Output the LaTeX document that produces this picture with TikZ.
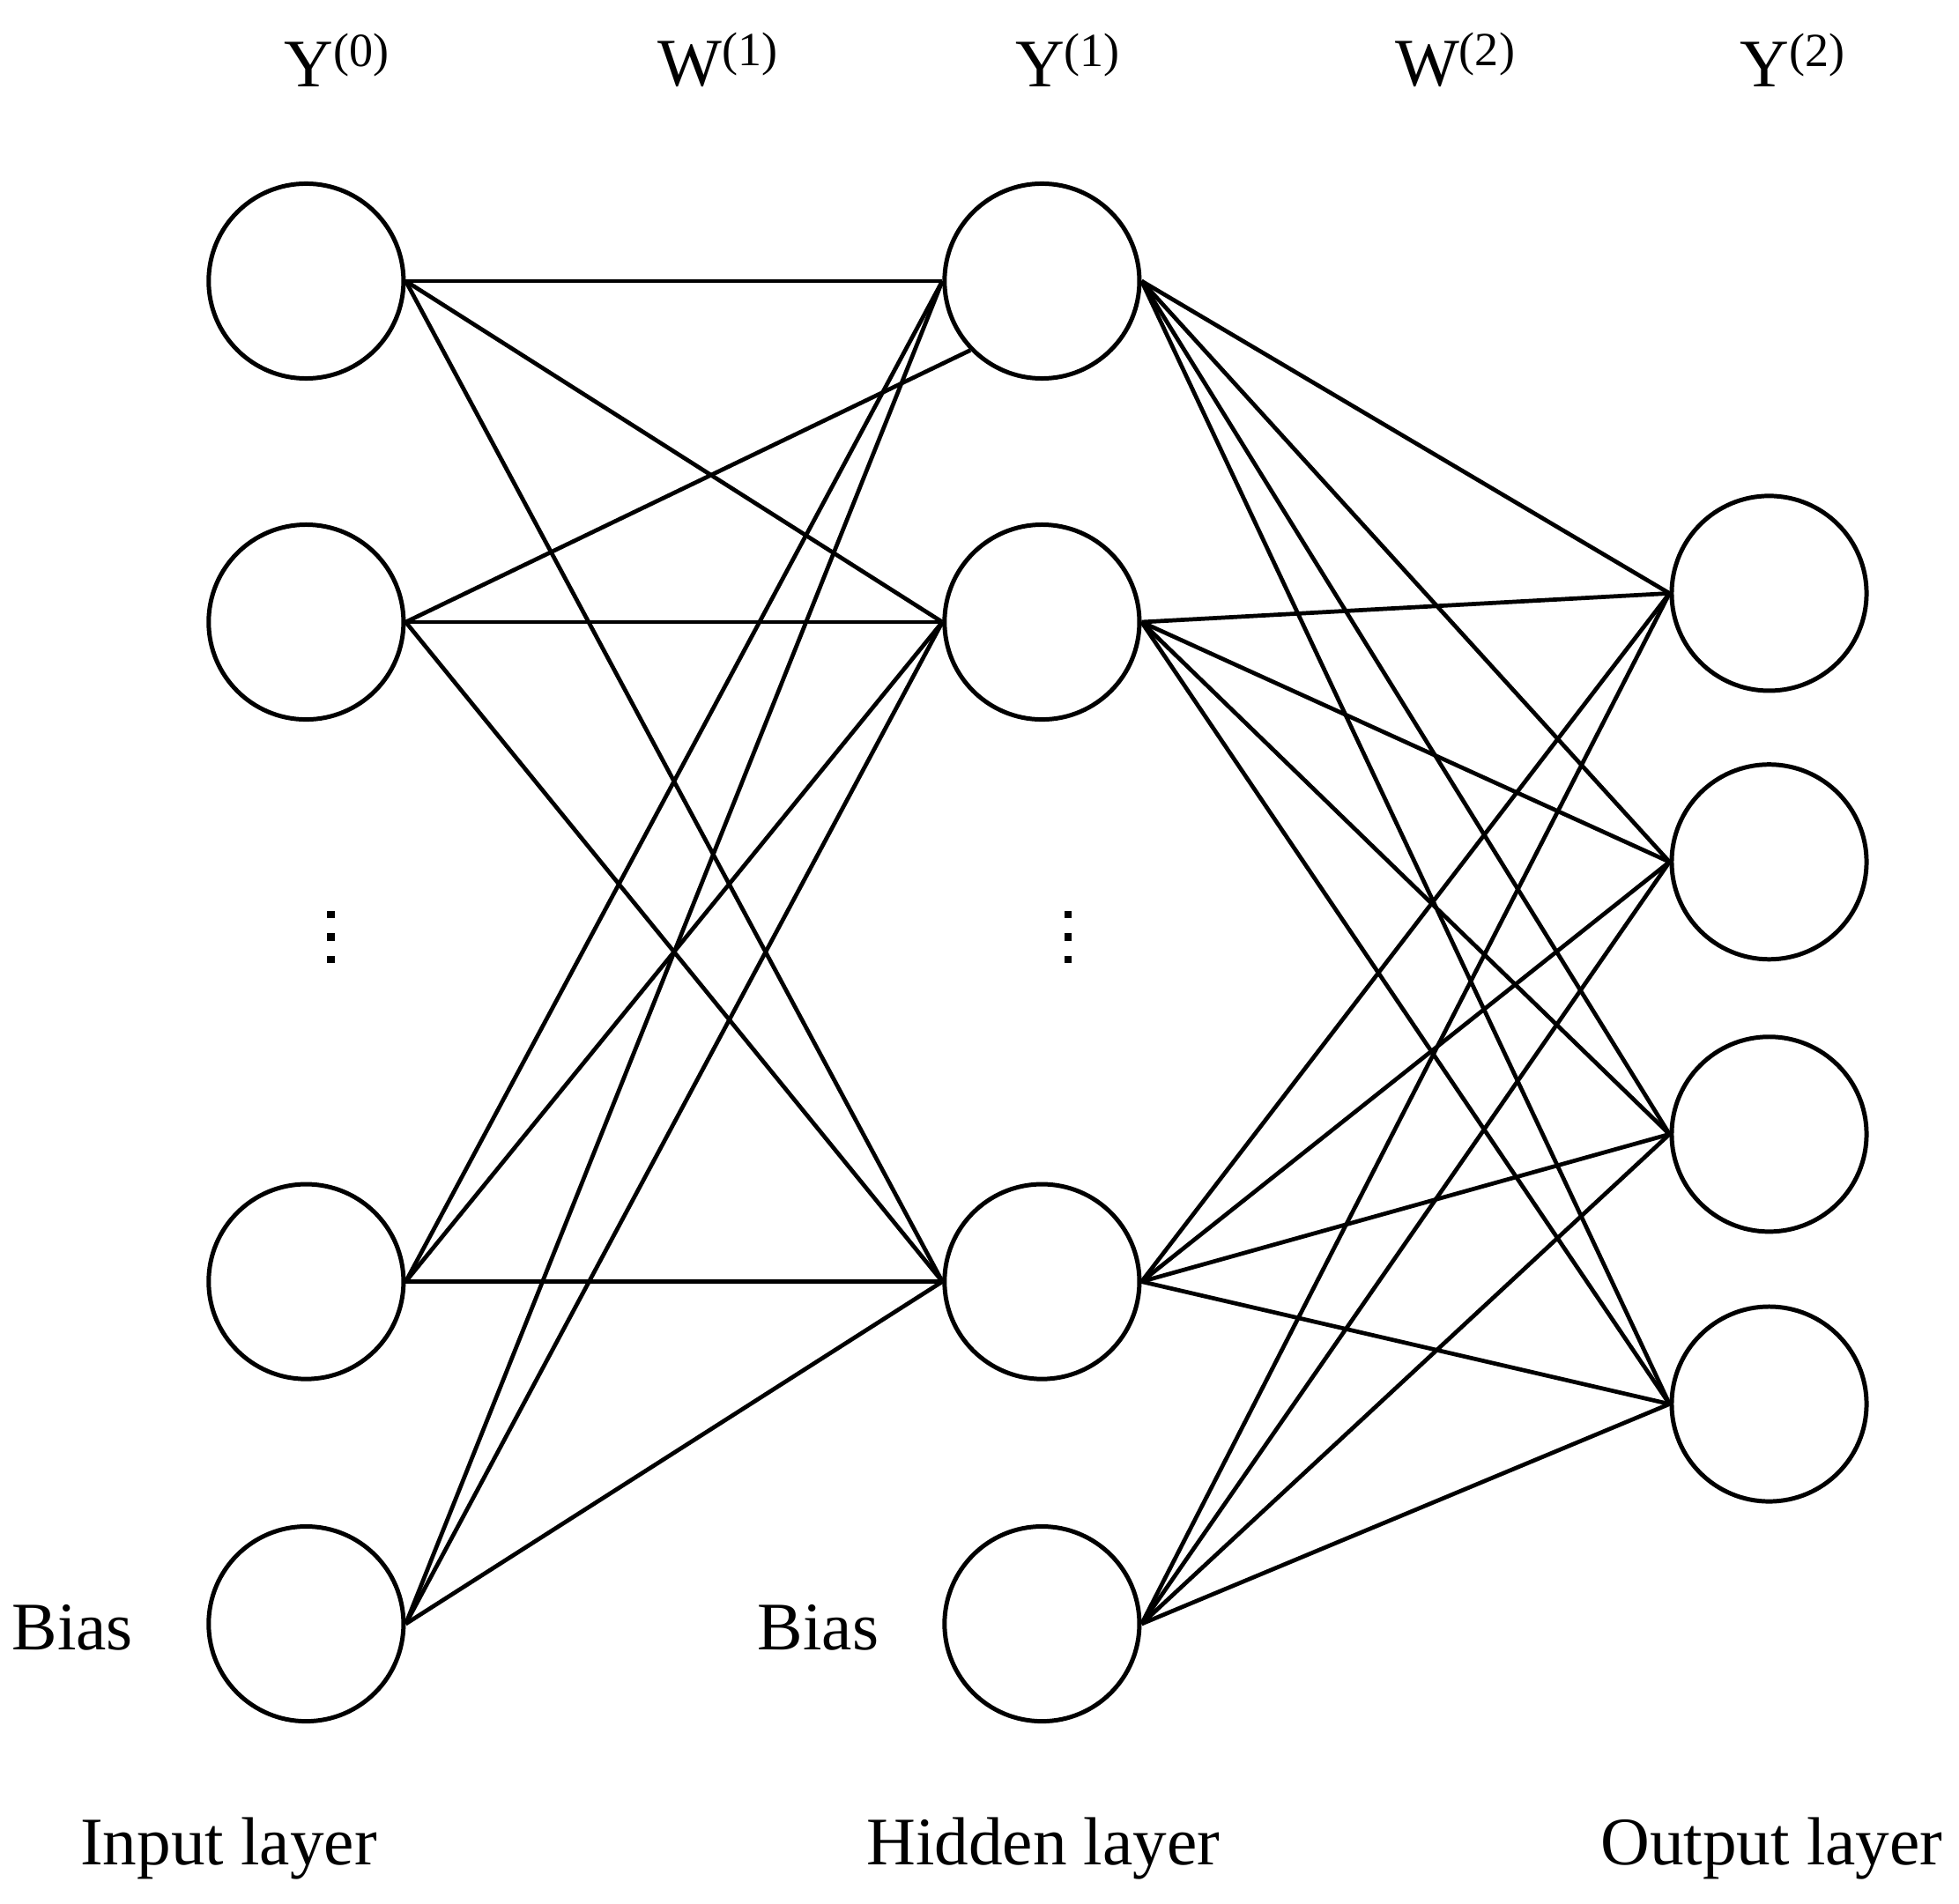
\documentclass[tikz,border=0pt]{standalone}
\usepackage{fontspec}
\setmainfont{Liberation Serif}
\begin{document}
\begin{tikzpicture}[x=0.02cm,y=-0.02cm,
  neuron/.style={circle,draw,line width=2pt,minimum size=3.12cm,inner sep=0pt},
  conn/.style={line width=1.9pt},
  lbl/.style={font=\fontsize{31}{37}\selectfont}]
\useasboundingbox (0,0) rectangle (1568,1524);
\foreach \n/\y in {1/225,2/498,3/1026,4/1300}{
  \node[neuron] (i\n) at (245,\y) {};
  \node[neuron] (h\n) at (834,\y) {};}
\foreach \n/\y in {1/475,2/690,3/908,4/1124}{
  \node[neuron] (o\n) at (1416,\y) {};}
\foreach \a in {1,2,3,4}{\foreach \b in {1,2,3}{
  \ifnum\a=2 \ifnum\b=1 \else \draw[conn] (i\a.east) -- (h\b.west); \fi
  \else \draw[conn] (i\a.east) -- (h\b.west); \fi}}
\draw[conn] (i2.east) -- (h1.224);
\foreach \a in {1,2,3,4}{\foreach \b in {1,2,3,4}{\draw[conn] (h\a.east) -- (o\b.west);}}
\node[lbl] (t1) at (270,48) {Y\textsuperscript{(0)}};
\node[lbl] (t2) at (575,48) {W\textsuperscript{(1)}};
\node[lbl] (t3) at (855,48) {Y\textsuperscript{(1)}};
\node[lbl] (t4) at (1165,48) {W\textsuperscript{(2)}};
\node[lbl] (t5) at (1435,48) {Y\textsuperscript{(2)}};
\node[lbl] (b1) at (58,1303) {Bias};
\node[lbl] (b2) at (655,1303) {Bias};
\node[lbl] (l1) at (183,1480) {Input layer};
\node[lbl] (l2) at (835,1480) {Hidden layer};
\node[lbl] (l3) at (1418,1480) {Output layer};
\foreach \x in {265,855}{
  \foreach \dy in {-18,0,18}{\fill (\x-3,750+\dy-3) rectangle (\x+3,750+\dy+3);}}
\end{tikzpicture}
\end{document}
